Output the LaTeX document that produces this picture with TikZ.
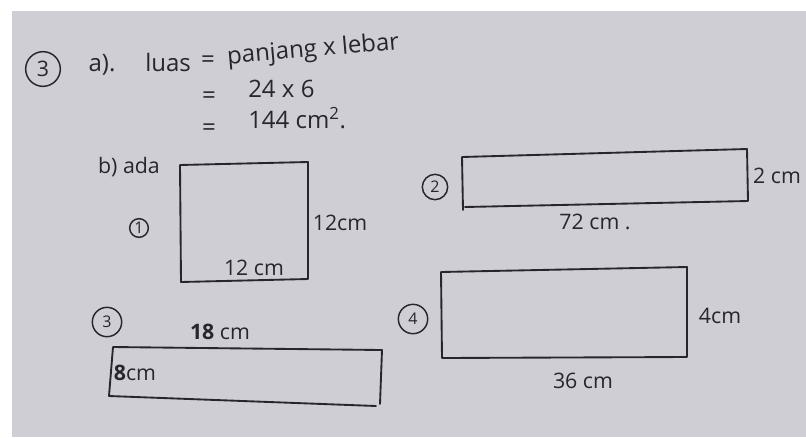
\documentclass[tikz,border=0pt]{standalone}
\usepackage{fontspec}
\setmainfont{Open Sans}
\usetikzlibrary{positioning}
\definecolor{paper}{RGB}{207,206,213}
\definecolor{ink}{RGB}{38,38,44}

\begin{document}
\begin{tikzpicture}[x=0.75pt, y=-0.75pt,
    pen/.style={draw=ink, line width=1.4pt, line cap=round, line join=round},
    hand/.style={text=ink, font=\fontsize{16}{18}\selectfont, inner sep=0pt},
    big/.style={hand, font=\fontsize{18}{20}\selectfont},
    num/.style={circle, draw=ink, line width=1.1pt, inner sep=0pt, text=ink, font=\fontsize{12}{13}\selectfont}]
    \useasboundingbox (0,0) rectangle (806,437);
    \fill[white] (0,0) rectangle (806,437);
    \fill[paper] (12,11) rectangle (806,437);

    % Part a
    \node[num, minimum size=26pt, font=\fontsize{16}{17}\selectfont] (qtiga) at (43,69) {3};
    \node[big] (parta) at (102,65) {a).};
    \node[big, anchor=west] (luas) at (145,62) {luas};
    \node[big] (eqa) at (208,62) {=};
    \node[big, anchor=west, rotate=5] (rumus) at (227,58) {panjang x lebar};
    \node[big, anchor=west] (kali) at (248,89) {24 x 6};
    \node[big] (eqb) at (209,98) {=};
    \node[big, anchor=west] (hasil) at (248,118) {144 cm\textsuperscript{2}.};
    \node[big] (eqc) at (209,130) {=};

    % Part b
    \node[hand] (partb) at (129,167) {b) ada};
    \foreach \nm/\x/\y/\v/\s in {nsatu/139/228/1/14pt, ndua/435/187/2/19pt, ntiga/107/322/3/22pt, nempat/413/319/4/22pt} {
        \node[num, minimum size=\s] (\nm) at (\x,\y) {\v};
    }

    % Rectangles
    \draw[pen] (180,165) -- (308,162) -- (308,279) -- (181,282) -- cycle;
    \draw[pen] (463,210) -- (462,157) -- (747,149) -- (748,201) -- (465,207);
    \draw[pen] (380,404) -- (382,350) -- (113,347) -- (109,396) -- (376,406);
    \draw[pen] (441,272) -- (687,267) -- (687,357) -- (442,358) -- cycle;

    % Sizes
    \foreach \nm/\x/\y/\t in {lsatua/340/223/12cm, lsatub/254/268/12 cm, lduaa/777/176/2 cm, lduab/595/222/72 cm ., lempata/720/316/4cm, lempatb/583/381/36 cm} {
        \node[hand] (\nm) at (\x,\y) {\t};
    }
    \node[hand] (ltigaa) at (220,332) {\textbf{18} cm};
    \node[hand] (ltigab) at (135,373) {\textbf{8}cm};
\end{tikzpicture}
\end{document}
